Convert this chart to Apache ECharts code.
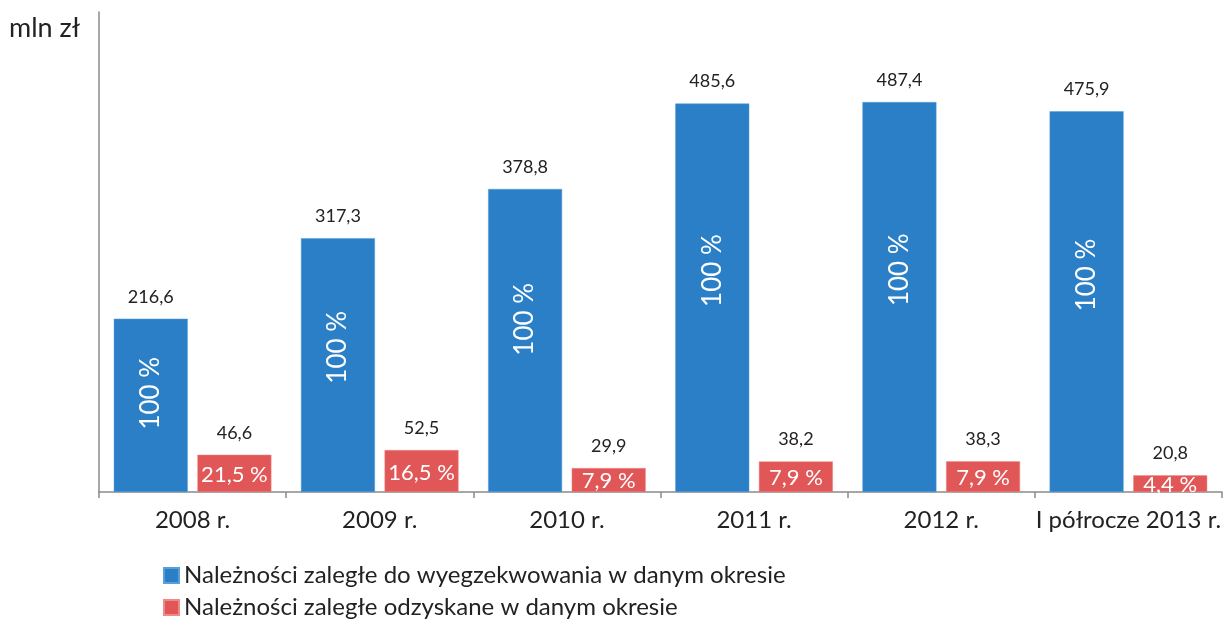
<!DOCTYPE html>
<html>
<head>
<meta charset="utf-8">
<script src="https://cdn.jsdelivr.net/npm/echarts@6/dist/echarts.min.js"></script>
<style>
  html, body { margin: 0; padding: 0; background: #fff; }
  #chart { width: 1224px; height: 620px; }
</style>
</head>
<body>
<div id="chart"></div>
<script>
var categories = ['2008 r.', '2009 r.', '2010 r.', '2011 r.', '2012 r.', 'I półrocze 2013 r.'];
var dueValues = [216.6, 317.3, 378.8, 485.6, 487.4, 475.9];
var recoveredValues = [46.6, 52.5, 29.9, 38.2, 38.3, 20.8];
var duePercent = ['100 %', '100 %', '100 %', '100 %', '100 %', '100 %'];
var recoveredPercent = ['21,5 %', '16,5 %', '7,9 %', '7,9 %', '7,9 %', '4,4 %'];
var seriesNames = ['Należności zaległe do wyegzekwowania w danym okresie', 'Należności zaległe odzyskane w danym okresie'];

(function() {
  var blue = '#2a7fc6';
  var red = '#e15656';
  var ink = '#222222';
  var axisGrey = '#8a8a8a';
  var font = 'Lato, "Open Sans", sans-serif';

  function fmt(v) { return v.toFixed(1).replace('.', ','); }

  var chart = echarts.init(document.getElementById('chart'), null, { renderer: 'canvas' });

  var barW = 74;
  var gap = '13%';

  chart.setOption({
    animation: false,
    backgroundColor: '#fff',
    textStyle: { fontFamily: font },
    title: {
      text: 'mln zł',
      left: 9,
      top: 15,
      padding: 0,
      textStyle: { fontFamily: font, fontSize: 27, fontWeight: 'normal', color: ink }
    },
    legend: {
      data: seriesNames,
      orient: 'vertical',
      left: 163,
      top: 563,
      height: 70,
      padding: 0,
      itemGap: 7,
      itemWidth: 15,
      itemHeight: 15,
      icon: 'rect',
      textStyle: { fontFamily: font, fontSize: 24, color: ink, lineHeight: 25 }
    },
    grid: { left: 99, right: 1, top: 12, bottom: 128, containLabel: false },
    xAxis: [{
      type: 'category',
      data: categories,
      axisLine: { lineStyle: { color: axisGrey, width: 1.5 } },
      axisTick: { show: true, length: 6, lineStyle: { color: axisGrey, width: 1.5 } },
      axisLabel: { color: ink, fontSize: 24, fontFamily: font, margin: 16, interval: 0 }
    }, {
      type: 'category',
      data: categories,
      show: false
    }],
    yAxis: {
      type: 'value',
      min: 0,
      max: 600,
      axisLine: { show: true, lineStyle: { color: axisGrey, width: 1.5 } },
      axisTick: { show: false },
      axisLabel: { show: false },
      splitLine: { show: false }
    },
    series: [{
      name: seriesNames[0],
      type: 'bar',
      xAxisIndex: 0,
      data: dueValues,
      barWidth: barW,
      barGap: gap,
      itemStyle: { color: blue, borderColor: '#5a9fd8', borderWidth: 0.5 },
      label: {
        show: true,
        position: ['50%', '43%'],
        rotate: 90,
        align: 'center',
        verticalAlign: 'middle',
        color: '#fff',
        fontSize: 26,
        fontFamily: font,
        formatter: function(p) { return duePercent[p.dataIndex]; }
      }
    }, {
      name: seriesNames[1],
      type: 'bar',
      xAxisIndex: 0,
      data: recoveredValues,
      barWidth: barW,
      barGap: gap,
      itemStyle: { color: red, borderColor: '#ee8a8a', borderWidth: 0.5 },
      label: {
        show: true,
        position: ['50%', '55%'],
        align: 'center',
        verticalAlign: 'middle',
        color: '#fff',
        fontSize: 22,
        fontFamily: font,
        formatter: function(p) { return recoveredPercent[p.dataIndex]; }
      }
    }, {
      name: 'dueTop',
      type: 'bar',
      xAxisIndex: 1,
      data: dueValues,
      barWidth: barW,
      barGap: gap,
      silent: true,
      itemStyle: { color: 'rgba(0,0,0,0)' },
      label: {
        show: true,
        position: 'top',
        distance: 13,
        color: ink,
        fontSize: 18,
        fontFamily: font,
        formatter: function(p) { return fmt(p.value); }
      }
    }, {
      name: 'recoveredTop',
      type: 'bar',
      xAxisIndex: 1,
      data: recoveredValues,
      barWidth: barW,
      barGap: gap,
      silent: true,
      itemStyle: { color: 'rgba(0,0,0,0)' },
      label: {
        show: true,
        position: 'top',
        distance: 13,
        color: ink,
        fontSize: 18,
        fontFamily: font,
        formatter: function(p) { return fmt(p.value); }
      }
    }]
  });

  window.addEventListener('resize', function() { chart.resize(); });
})();
</script>
</body>
</html>
